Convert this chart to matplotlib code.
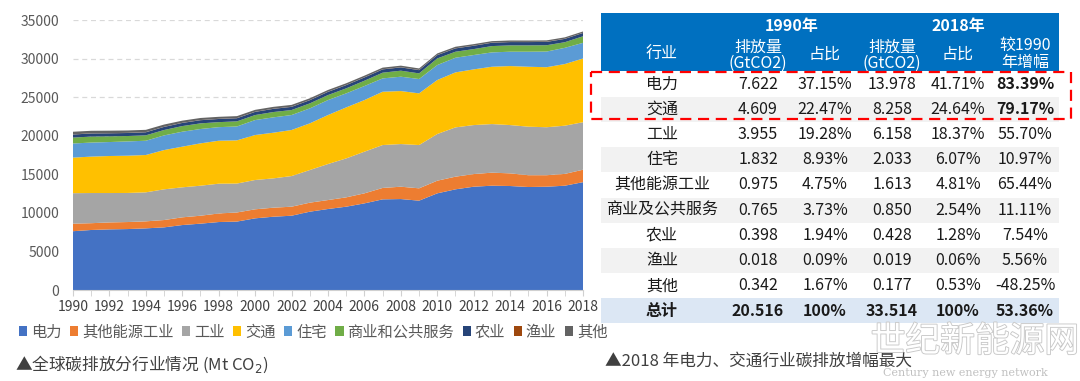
import matplotlib
matplotlib.use("Agg")
import matplotlib.pyplot as plt
from matplotlib.patches import Rectangle
import matplotlib.patheffects as pe

plt.rcParams['font.family'] = ['Noto Sans CJK SC', 'DejaVu Sans']

# ---------------- data: stacked area (Mt CO2) ----------------
years = list(range(1990, 2019))
power = [7622, 7780, 7860, 7900, 7990, 8120, 8420, 8600, 8810, 8870, 9290, 9500, 9630, 10150, 10500,
         10800, 11230, 11750, 11790, 11580, 12530, 13050, 13390, 13520, 13480, 13350, 13390, 13520, 13978]
other_energy = [975, 880, 900, 910, 910, 950, 1000, 1030, 1110, 1180, 1170, 1170, 1170, 1170, 1160,
                1210, 1300, 1480, 1600, 1600, 1640, 1640, 1640, 1690, 1640, 1530, 1490, 1530, 1613]
industry = [3955, 3910, 3810, 3770, 3760, 3980, 3890, 3890, 3860, 3750, 3800, 3800, 3970, 4230, 4670,
            5050, 5400, 5560, 5530, 5610, 6050, 6390, 6350, 6300, 6260, 6290, 6220, 6250, 6158]
transport = [4609, 4720, 4800, 4830, 4840, 5090, 5270, 5490, 5570, 5600, 5830, 5920, 5970, 6050, 6350,
             6610, 6690, 6910, 6870, 6700, 7000, 7130, 7220, 7430, 7650, 7770, 7780, 7990, 8258]
residential = [1832, 1820, 1810, 1850, 1850, 1900, 1940, 1860, 1760, 1800, 1940, 1990, 1940, 1940, 1940,
               1820, 1820, 1730, 1860, 1860, 1940, 1900, 1860, 1860, 1860, 1950, 2030, 2100, 2033]
commercial = [765, 780, 740, 700, 700, 700, 730, 730, 650, 660, 650, 690, 650, 650, 650,
              650, 690, 740, 780, 730, 860, 780, 770, 820, 820, 820, 820, 730, 850]
agriculture = [398, 400, 395, 392, 395, 400, 405, 410, 410, 405, 408, 410, 410, 412, 415,
               418, 420, 425, 425, 420, 425, 428, 430, 432, 430, 428, 428, 430, 428]
fishing = [18, 18, 18, 18, 18, 18, 18, 19, 19, 19, 19, 19, 19, 19, 19,
           19, 19, 19, 19, 19, 19, 19, 19, 19, 19, 19, 19, 19, 19]
others = [342, 330, 320, 310, 300, 290, 280, 270, 262, 255, 248, 242, 236, 230, 226,
          222, 217, 212, 208, 204, 200, 197, 194, 191, 188, 186, 183, 180, 177]

series_labels = ['电力', '其他能源工业', '工业', '交通', '住宅', '商业和公共服务', '农业', '渔业', '其他']
series_colors = ['#4472C4', '#ED7D31', '#A5A5A5', '#FFC000', '#5B9BD5', '#70AD47', '#264478', '#9E480E', '#636363']

# ---------------- data: table ----------------
tbl_sectors = ['电力', '交通', '工业', '住宅', '其他能源工业', '商业及公共服务', '农业', '渔业', '其他', '总计']
tbl_e1990 = ['7.622', '4.609', '3.955', '1.832', '0.975', '0.765', '0.398', '0.018', '0.342', '20.516']
tbl_s1990 = ['37.15%', '22.47%', '19.28%', '8.93%', '4.75%', '3.73%', '1.94%', '0.09%', '1.67%', '100%']
tbl_e2018 = ['13.978', '8.258', '6.158', '2.033', '1.613', '0.850', '0.428', '0.019', '0.177', '33.514']
tbl_s2018 = ['41.71%', '24.64%', '18.37%', '6.07%', '4.81%', '2.54%', '1.28%', '0.06%', '0.53%', '100%']
tbl_growth = ['83.39%', '79.17%', '55.70%', '10.97%', '65.44%', '11.11%', '7.54%', '5.56%', '-48.25%', '53.36%']

W, H = 1080, 381
fig = plt.figure(figsize=(W / 100, H / 100), dpi=100)

# ---------------- stacked area chart ----------------
x0, x1, y0, y1 = 73, 583, 290, 20
ax = fig.add_axes([x0 / W, (H - y0) / H, (x1 - x0) / W, (y0 - y1) / H])
polys = ax.stackplot(years, power, other_energy, industry, transport, residential, commercial,
                     agriculture, fishing, others, colors=series_colors, labels=series_labels,
                     linewidth=0)
ax.set_xlim(1990, 2018)
ax.set_ylim(0, 35000)
ax.set_yticks(range(0, 35001, 5000))
ax.set_xticks(range(1990, 2019, 2))
ax.set_xticks(range(1990, 2019, 1), minor=True)
ax.yaxis.grid(True, linestyle=(0, (4, 3)), color='#d9d9d9', linewidth=0.9)
ax.set_axisbelow(True)
for s in ['top', 'right', 'left']:
    ax.spines[s].set_visible(False)
ax.spines['bottom'].set_color('#d0d0d0')
ax.tick_params(axis='y', length=0, labelsize=10, labelcolor='#595959', pad=10)
ax.tick_params(axis='x', which='both', length=4, color='#d0d0d0', labelsize=10,
               labelcolor='#404040', pad=3)
for lab in ax.get_xticklabels():
    lab.set_fontweight('medium')

leg = ax.legend(loc='center', bbox_to_anchor=(313 / W, (H - 332) / H),
                bbox_transform=fig.transFigure, ncol=9, frameon=False, fontsize=11,
                handlelength=0.55, handleheight=0.55, handletextpad=0.25,
                columnspacing=0.55, labelcolor='#595959', borderaxespad=0)

# ---------------- overlay for table & captions ----------------
ov = fig.add_axes([0, 0, 1, 1], zorder=5)
ov.set_xlim(0, W)
ov.set_ylim(H, 0)
ov.axis('off')
ov.patch.set_visible(False)

tx0, tx1 = 601, 1059
# header
ov.add_patch(Rectangle((tx0, 13), tx1 - tx0, 58, color='#0070C0', lw=0))
hdr_kw = dict(color='white', ha='center', va='center', fontsize=11.5)
ov.text(792, 26, '1990年', fontweight='bold', **hdr_kw)
ov.text(958, 26, '2018年', fontweight='bold', **hdr_kw)
ov.text(662, 54, '行业', **hdr_kw)
ov.text(758, 47, '排放量', **hdr_kw)
ov.text(758, 63, '(GtCO2)', **hdr_kw)
ov.text(825, 54, '占比', **hdr_kw)
ov.text(892, 47, '排放量', **hdr_kw)
ov.text(892, 63, '(GtCO2)', **hdr_kw)
ov.text(958, 54, '占比', **hdr_kw)
ov.text(1025, 45, '较1990', **hdr_kw)
ov.text(1025, 63, '年增幅', **hdr_kw)

row_top = 71.5
row_h = 25.2
col_x = [662, 758, 825, 892, 958, 1025]
n = len(tbl_sectors)
for i in range(n):
    top = row_top + i * row_h
    cy = top + row_h / 2
    if i == n - 1:
        ov.add_patch(Rectangle((tx0, top), tx1 - tx0, row_h, color='#DCE7F4', lw=0))
    elif i % 2 == 1:
        ov.add_patch(Rectangle((tx0, top), tx1 - tx0, row_h, color='#F2F2F2', lw=0))
    vals = [tbl_sectors[i], tbl_e1990[i], tbl_s1990[i], tbl_e2018[i], tbl_s2018[i], tbl_growth[i]]
    for j, v in enumerate(vals):
        bold = (i == n - 1) or (j == 5 and i < 2)
        ov.text(col_x[j], cy, v, ha='center', va='center', fontsize=11.5,
                color='#1a1a1a', fontweight='bold' if bold else 'normal')

# red dashed highlight box
ov.add_patch(Rectangle((591, 72), 1071 - 591, 119 - 72, fill=False, edgecolor='#FF0000',
                       linewidth=1.6, linestyle=(0, (5, 3))))

# captions
ov.text(15, 364, '▲全球碳排放分行业情况 (Mt CO$_2$)', ha='left', va='center', fontsize=12,
        color='#404040')
ov.text(605, 361, '▲2018 年电力、交通行业碳排放增幅最大', ha='left', va='center', fontsize=12,
        color='#404040')

# watermark
ov.text(975, 342, '世纪新能源网', ha='center', va='center', fontsize=25, color='white',
        path_effects=[pe.Stroke(linewidth=1.3, foreground='#c8c8c8'), pe.Normal()], zorder=6)
ov.text(965, 373, 'Century new energy network', ha='center', va='center', fontsize=8,
        family='DejaVu Serif', color='#c0c0c0', zorder=6)

fig.savefig('out.png', dpi=100)
